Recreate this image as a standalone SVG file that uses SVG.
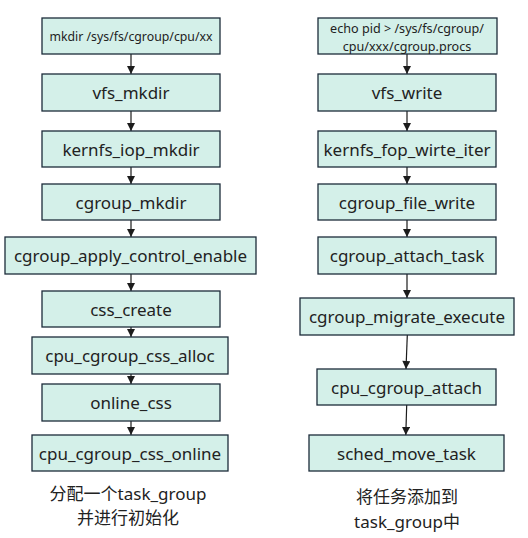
<svg xmlns="http://www.w3.org/2000/svg" width="528" height="538" viewBox="0 0 528 538">
<defs>
<style>
.box rect{fill:#d4f0e9;stroke:#1c2b3a;stroke-width:1.3}
text{font-family:"Noto Sans","Noto Sans CJK SC",sans-serif;fill:#222;text-anchor:middle;dominant-baseline:central}
.t{font-size:17px}
.s{font-size:12.3px}
.s2{font-size:12.6px}
.cap{font-size:17px}
.conn path{fill:none;stroke:#1c1c1c;stroke-width:1.2;marker-end:url(#ah)}
</style>
<marker id="ah" viewBox="0 0 10 10" refX="10" refY="5" markerWidth="9" markerHeight="8" markerUnits="userSpaceOnUse" orient="auto">
<path d="M0,0 L10,5 L0,10 Z" fill="#1c1c1c"/>
</marker>
</defs>
<rect width="528" height="538" fill="#ffffff"/>
<g class="conn">
<path d="M131,54 V74"/>
<path d="M131,111 V131"/>
<path d="M131,167 V184"/>
<path d="M131,220 V237"/>
<path d="M131,274 V291"/>
<path d="M131,327 V337"/>
<path d="M131,374 V384"/>
<path d="M131,421 V435"/>
<path d="M407,54 V74"/>
<path d="M407,111 V131"/>
<path d="M407,167 V184"/>
<path d="M407,220 V237"/>
<path d="M407,274 V298"/>
<path d="M407.3,335 L406,369"/>
<path d="M406.7,405 L405.8,435"/>
</g>
<g id="n_mkdir_cmd" class="box"><rect x="42" y="18" width="178" height="36"/><text class="s" x="131" y="36">mkdir /sys/fs/cgroup/cpu/xx</text></g>
<g id="n_vfs_mkdir" class="box"><rect x="42" y="74" width="178" height="37"/><text class="t" x="131" y="92.5">vfs_mkdir</text></g>
<g id="n_kernfs_iop_mkdir" class="box"><rect x="42" y="131" width="178" height="36"/><text class="t" x="131" y="149">kernfs_iop_mkdir</text></g>
<g id="n_cgroup_mkdir" class="box"><rect x="42" y="184" width="178" height="36"/><text class="t" x="131" y="202">cgroup_mkdir</text></g>
<g id="n_cgroup_apply_control_enable" class="box"><rect x="5" y="237" width="251" height="37"/><text class="t" x="130.5" y="255.5">cgroup_apply_control_enable</text></g>
<g id="n_css_create" class="box"><rect x="42" y="291" width="178" height="36"/><text class="t" x="131" y="309">css_create</text></g>
<g id="n_cpu_cgroup_css_alloc" class="box"><rect x="32" y="337" width="196" height="37"/><text class="t" x="130" y="355.5">cpu_cgroup_css_alloc</text></g>
<g id="n_online_css" class="box"><rect x="42" y="384" width="178" height="37"/><text class="t" x="131" y="402.5">online_css</text></g>
<g id="n_cpu_cgroup_css_online" class="box"><rect x="32" y="435" width="196" height="36"/><text class="t" x="130" y="453">cpu_cgroup_css_online</text></g>
<g id="cap_left"><text class="cap" x="128" y="493">分配一个task_group</text><text class="cap" x="128" y="517">并进行初始化</text></g>
<g id="n_echo_cmd" class="box"><rect x="318" y="18" width="179" height="36"/><text class="s2" x="407" y="28.5">echo pid &gt; /sys/fs/cgroup/</text><text class="s2" x="407" y="46.5">cpu/xxx/cgroup.procs</text></g>
<g id="n_vfs_write" class="box"><rect x="318" y="74" width="178" height="37"/><text class="t" x="407" y="92.5">vfs_write</text></g>
<g id="n_kernfs_fop_wirte_iter" class="box"><rect x="318" y="131" width="178" height="36"/><text class="t" x="407" y="149">kernfs_fop_wirte_iter</text></g>
<g id="n_cgroup_file_write" class="box"><rect x="318" y="184" width="178" height="36"/><text class="t" x="407" y="202">cgroup_file_write</text></g>
<g id="n_cgroup_attach_task" class="box"><rect x="318" y="237" width="178" height="37"/><text class="t" x="407" y="255.5">cgroup_attach_task</text></g>
<g id="n_cgroup_migrate_execute" class="box"><rect x="300" y="298" width="214" height="37"/><text class="t" x="407" y="316.5">cgroup_migrate_execute</text></g>
<g id="n_cpu_cgroup_attach" class="box"><rect x="317" y="369" width="179" height="36"/><text class="t" x="406.5" y="387">cpu_cgroup_attach</text></g>
<g id="n_sched_move_task" class="box"><rect x="309" y="435" width="195" height="36"/><text class="t" x="406.5" y="453">sched_move_task</text></g>
<g id="cap_right"><text class="cap" x="407" y="496">将任务添加到</text><text class="cap" x="407" y="521">task_group中</text></g>
</svg>
